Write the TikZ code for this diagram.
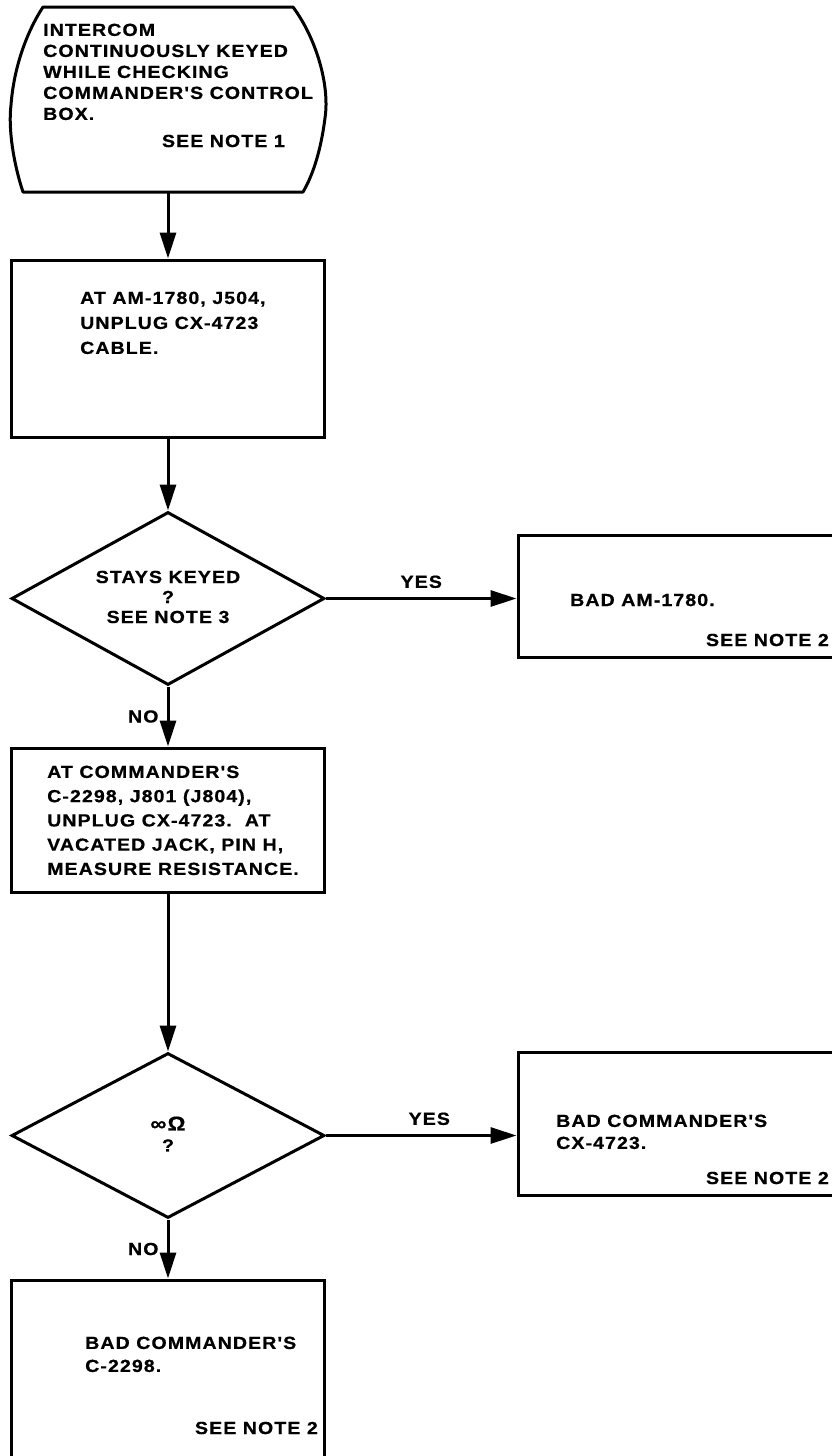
\documentclass[tikz,border=0pt]{standalone}
\usepackage{fontspec}
\newfontfamily\flowfont{Liberation Sans}[FakeStretch=1.12,LetterSpace=6,FakeBold=0.6]
\usetikzlibrary{shapes.geometric,arrows.meta}
\begin{document}
\begin{tikzpicture}[x=1pt,y=-1pt,
  every node/.style={font=\flowfont\bfseries\fontsize{17.5}{21}\selectfont},
  outline/.style={draw, line width=3pt, line join=round},
  stepbox/.style={draw, line width=3pt, rectangle, inner sep=0pt},
  decide/.style={draw, line width=3pt, diamond, aspect=1.8, inner sep=0pt, minimum width=313pt, minimum height=173pt},
  txt/.style={inner sep=0pt, align=left, anchor=north west},
  lbl/.style={inner sep=0pt},
  flow/.style={line width=3pt, -{Triangle[length=26pt,width=16pt]}},
]
\useasboundingbox (0,0) rectangle (831,1456);
\fill[white] (0,0) rectangle (831,1456);

% terminal
\draw[outline] (43,7) -- (293,7) .. controls (316,38) and (330,85) .. (325,118)
  .. controls (321,150) and (313,175) .. (303,192) -- (23,192)
  .. controls (14,165) and (8,130) .. (11,105) .. controls (14,65) and (28,30) .. (43,7) -- cycle;
\node[minimum width=300pt, minimum height=185pt, inner sep=0pt] (term) at (168,99.5) {};
\node[txt] (termtxt) at (43,23.5) {INTERCOM\\CONTINUOUSLY KEYED\\WHILE CHECKING\\COMMANDER'S CONTROL\\BOX.};
\node[lbl, anchor=east] (note1) at (285,141) {SEE NOTE 1};

% box 1
\node[stepbox, minimum width=313pt, minimum height=177pt] (b1) at (168,348.5) {};
\node[txt, font=\flowfont\bfseries\fontsize{17.5}{25}\selectfont] (b1txt) at (80,291.5) {AT AM-1780, J504,\\UNPLUG CX-4723\\CABLE.};

% diamond 1
\node[decide] (d1) at (168,598.5) {};
\node[lbl, align=center, font=\flowfont\bfseries\fontsize{17.5}{20}\selectfont] (d1txt) at (168,597) {STAYS KEYED\\?\\SEE NOTE 3};

% right box 1
\node[stepbox, minimum width=317pt, minimum height=122pt] (r1) at (676.5,596) {};
\node[lbl, anchor=west] (r1txt) at (570,600) {BAD AM-1780.};
\node[lbl, anchor=east] (r1note) at (829,640) {SEE NOTE 2};

% box 3
\node[stepbox, minimum width=313pt, minimum height=144pt] (b3) at (168,820) {};
\node[txt, font=\flowfont\bfseries\fontsize{17.5}{24.25}\selectfont] (b3txt) at (47,765.5) {AT COMMANDER'S\\C-2298, J801 (J804),\\UNPLUG CX-4723.\ \ AT\\VACATED JACK, PIN H,\\MEASURE RESISTANCE.};

% diamond 2
\node[decide, minimum height=165pt] (d2) at (168,1135.5) {};
\node[lbl, align=center, font=\flowfont\bfseries\fontsize{17.5}{21}\selectfont] (d2txt) at (168,1134) {{\fontsize{20}{21}\selectfont ∞Ω}\\?};

% right box 2
\node[stepbox, minimum width=317pt, minimum height=143pt] (r2) at (676.5,1123.5) {};
\node[txt, font=\flowfont\bfseries\fontsize{17.5}{22}\selectfont] (r2txt) at (556,1114.5) {BAD COMMANDER'S\\CX-4723.};
\node[lbl, anchor=east] (r2note) at (829,1178) {SEE NOTE 2};

% final box
\node[stepbox, minimum width=313pt, minimum height=190pt] (b5) at (168,1375) {};
\node[txt, font=\flowfont\bfseries\fontsize{17.5}{23}\selectfont] (b5txt) at (85,1336.5) {BAD COMMANDER'S\\C-2298.};
\node[lbl, anchor=east] (b5note) at (318,1428) {SEE NOTE 2};

% connectors
\draw[flow] (term.south) -- (b1.north);
\draw[flow] (b1.south) -- (d1.north);
\draw[flow] (d1.east) -- (d1.east -| r1.west) node[lbl, midway, above=9pt] (yes1) {YES};
\draw[flow] (d1.south) -- (b3.north) node[lbl, midway, left=8pt] (no1) {NO};
\draw[flow] (b3.south) -- (d2.north);
\draw[flow] (d2.east) -- (d2.east -| r2.west) node[lbl, midway, above=9pt, xshift=8pt] (yes2) {YES};
\draw[flow] (d2.south) -- (b5.north) node[lbl, midway, left=8pt] (no2) {NO};
\end{tikzpicture}
\end{document}
